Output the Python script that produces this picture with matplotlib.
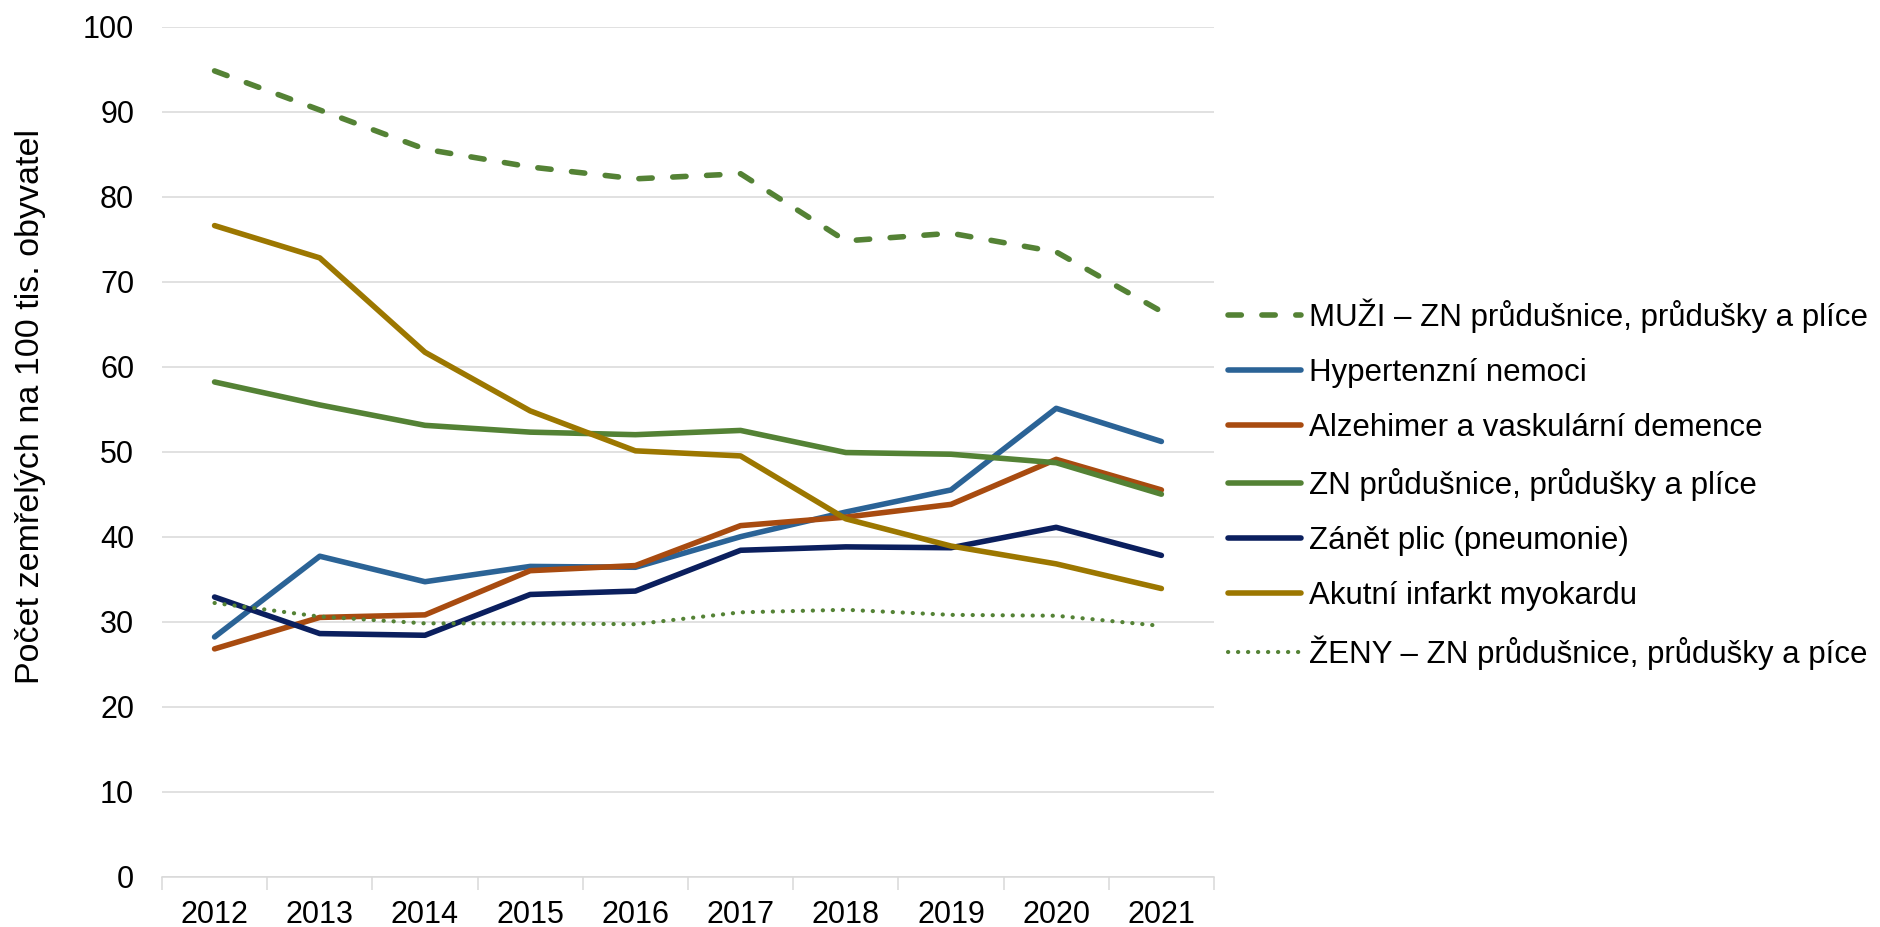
import numpy as np
import matplotlib.pyplot as plt

plt.rcParams['font.family'] = ['Liberation Sans', 'DejaVu Sans']

years = ['2012', '2013', '2014', '2015', '2016', '2017', '2018', '2019', '2020', '2021']

muzi_zn = [94.8, 90.2, 85.6, 83.5, 82.1, 82.7, 74.8, 75.7, 73.5, 66.5]
hypertenzni = [28.2, 37.7, 34.7, 36.5, 36.4, 40.0, 42.9, 45.5, 55.1, 51.2]
alzheimer = [26.8, 30.5, 30.8, 36.0, 36.6, 41.3, 42.3, 43.8, 49.1, 45.5]
zn_plice = [58.2, 55.5, 53.1, 52.3, 52.0, 52.5, 49.9, 49.7, 48.7, 45.0]
zanet_plic = [32.9, 28.6, 28.4, 33.2, 33.6, 38.4, 38.8, 38.7, 41.1, 37.8]
infarkt = [76.6, 72.8, 61.7, 54.8, 50.1, 49.5, 42.1, 38.9, 36.8, 33.9]
zeny_zn = [32.2, 30.6, 29.8, 29.8, 29.7, 31.1, 31.4, 30.8, 30.7, 29.5]

labels = ['MUŽI – ZN průdušnice, průdušky a plíce',
          'Hypertenzní nemoci',
          'Alzehimer a vaskulární demence',
          'ZN průdušnice, průdušky a plíce',
          'Zánět plic (pneumonie)',
          'Akutní infarkt myokardu',
          'ŽENY – ZN průdušnice, průdušky a píce']

green = '#548235'
x = np.arange(len(years))
lw = 4.0

fig = plt.figure(figsize=(18.81, 9.27), dpi=100)
ax = fig.add_axes([0.0861, 0.0543, 0.5593, 0.9169])

ax.plot(x, muzi_zn, color=green, lw=lw, linestyle=(0, (2.4, 3.7)),
        dash_capstyle='round', label=labels[0])
ax.plot(x, hypertenzni, color='#2B6396', lw=lw, solid_capstyle='round', label=labels[1])
ax.plot(x, alzheimer, color='#A84B10', lw=lw, solid_capstyle='round', label=labels[2])
ax.plot(x, zn_plice, color=green, lw=lw, solid_capstyle='round', label=labels[3])
ax.plot(x, zanet_plic, color='#0B1F5E', lw=lw, solid_capstyle='round', label=labels[4])
ax.plot(x, infarkt, color='#9C7700', lw=lw, solid_capstyle='round', label=labels[5])
ax.plot(x, zeny_zn, color=green, lw=3.0, linestyle=(0, (0.05, 2.35)),
        dash_capstyle='round', label=labels[6])

ax.set_xlim(-0.5, 9.5)
ax.set_ylim(0, 100)
ax.set_yticks(range(0, 101, 10))
ax.set_xticks(x)
ax.set_xticklabels(years)
ax.set_xticks(np.arange(-0.5, 10, 1), minor=True)
ax.tick_params(axis='y', length=0, pad=20, labelsize=22)
ax.tick_params(axis='x', which='major', length=0, pad=17, labelsize=22)
ax.tick_params(axis='x', which='minor', length=9, width=1.1, color='#D9D9D9')

ax.grid(axis='y', color='#D9D9D9', lw=1.1)
ax.set_axisbelow(True)
for s in ['top', 'right', 'left']:
    ax.spines[s].set_visible(False)
ax.spines['bottom'].set_color('#D9D9D9')
ax.spines['bottom'].set_linewidth(1.1)

fig.text(0.008, 0.561, 'Počet zemřelých na 100 tis. obyvatel', rotation=90,
         ha='left', va='center', fontsize=24.5)

fig.legend(loc='center left', bbox_to_anchor=(0.6528, 0.4777), frameon=False,
           fontsize=22.5, handlelength=2.35, handletextpad=0.23, labelspacing=0.80,
           borderpad=0, borderaxespad=0)

fig.savefig('out.png', dpi=100)
